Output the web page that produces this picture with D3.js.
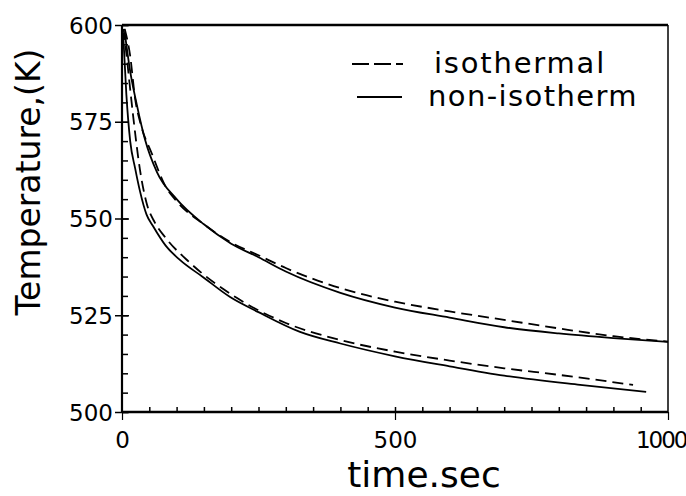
<!DOCTYPE html>
<html>
<head>
<meta charset="utf-8">
<script src="https://cdn.jsdelivr.net/npm/d3@7"></script>
<style>
  body { margin: 0; background: #fff; }
  text { font-family: "DejaVu Sans", sans-serif; fill: #000; }
</style>
</head>
<body>
<div id="grafico"></div>
<script>
const width = 686
const height = 496

// data (time in s, temperature in K)
const isoUpperTime = [5, 15, 24, 35, 54, 79, 100, 150, 200, 250, 300, 400, 500, 600, 700, 800, 900, 1000]
const isoUpperTemp = [599, 592, 581, 574, 567, 558.5, 554.5, 548.5, 543.8, 540.5, 537.2, 532, 528.5, 526, 523.8, 521.6, 519.6, 518.2]
const nonIsoUpperTime = [5, 15, 27, 42, 64, 100, 150, 200, 250, 300, 400, 500, 600, 700, 800, 900, 1000]
const nonIsoUpperTemp = [598, 588, 579.5, 570.5, 562, 555, 548.5, 543.5, 540, 536.3, 530.8, 527, 524.4, 521.9, 520.3, 519.1, 518.1]
const isoLowerTime = [3, 10, 20, 33, 45, 60, 80, 125, 210, 300, 400, 500, 600, 700, 800, 936]
const isoLowerTemp = [599, 590, 577, 562.5, 554, 549, 545, 538.5, 529.5, 523, 518.6, 515.6, 513.3, 511.3, 509.6, 507]
const nonIsoLowerTime = [2, 8, 15, 24, 33, 45, 57, 80, 106, 148, 198, 250, 326, 400, 500, 600, 700, 839, 960]
const nonIsoLowerTemp = [598, 582, 570, 563, 557, 551, 548, 543, 539.3, 534.9, 529.7, 525.8, 520.7, 517.7, 514.4, 511.8, 509.4, 507, 505.2]

const yTicks = [500, 525, 550, 575, 600]
const xTicks = [0, 500, 1000]
const legendLabels = ['isothermal', 'non-isotherm']

const series = [
  {time: isoUpperTime, temp: isoUpperTemp, dashed: true},
  {time: nonIsoUpperTime, temp: nonIsoUpperTemp, dashed: false},
  {time: isoLowerTime, temp: isoLowerTemp, dashed: true},
  {time: nonIsoLowerTime, temp: nonIsoLowerTemp, dashed: false}
]

const svg = d3.select('#grafico').append('svg')
              .attr('width', width)
              .attr('height', height)

const x = d3.scaleLinear().domain([0, 1000]).range([122, 668])
const y = d3.scaleLinear().domain([500, 600]).range([412, 25])

// minor ticks, drawn inward
const yAxis = d3.axisRight(y).tickValues(d3.range(500, 601, 5)).tickSize(6).tickFormat('')
svg.append('g').attr('transform', 'translate(122,0)').call(yAxis)
   .call(g => g.select('.domain').remove())
   .selectAll('line').attr('stroke', '#000').attr('stroke-width', 1.5)

const xAxis = d3.axisTop(x).tickValues(d3.range(50, 1000, 50)).tickSize(5).tickFormat('')
svg.append('g').attr('transform', 'translate(0,412)').call(xAxis)
   .call(g => g.select('.domain').remove())
   .selectAll('line').attr('stroke', '#000').attr('stroke-width', 1.5)

// major ticks and labels
const yMajor = d3.axisLeft(y).tickValues(yTicks).tickSize(7).tickPadding(2)
svg.append('g').attr('transform', 'translate(122,0)').call(yMajor)
   .call(g => g.select('.domain').remove())
   .call(g => g.selectAll('line').attr('stroke', '#000').attr('stroke-width', 1.5).attr('x2', -7).attr('x1', 7))
   .call(g => g.selectAll('text').attr('font-size', 23).attr('font-family', '"DejaVu Sans", sans-serif').attr('dy', '0.35em'))

const xMajor = d3.axisBottom(x).tickValues(xTicks).tickSize(8).tickPadding(12).tickFormat(d3.format('d'))
svg.append('g').attr('transform', 'translate(0,412)').call(xMajor)
   .call(g => g.select('.domain').remove())
   .call(g => g.selectAll('line').attr('stroke', '#000').attr('stroke-width', 1.2))
   .call(g => g.selectAll('text').attr('font-size', 23).attr('font-family', '"DejaVu Sans", sans-serif')
              .attr('letter-spacing', d => d === 1000 ? -2 : 0)
              .attr('text-anchor', d => d === 1000 ? 'end' : 'middle')
              .attr('x', d => d === 1000 ? 18 : 0))

// frame
svg.append('line').attr('x1', 122).attr('x2', 668).attr('y1', 25).attr('y2', 25).attr('stroke', '#000').attr('stroke-width', 2.5)
svg.append('line').attr('x1', 122).attr('x2', 668).attr('y1', 412).attr('y2', 412).attr('stroke', '#000').attr('stroke-width', 2.5)
svg.append('line').attr('x1', 122).attr('x2', 122).attr('y1', 25).attr('y2', 412).attr('stroke', '#000').attr('stroke-width', 2.2)
svg.append('line').attr('x1', 668).attr('x2', 668).attr('y1', 25).attr('y2', 412).attr('stroke', '#000').attr('stroke-width', 1.5)

const line = d3.line()
               .x(d => x(d[0]))
               .y(d => y(d[1]))
               .curve(d3.curveMonotoneX)

svg.selectAll('path.curve')
   .data(series)
   .enter()
   .append('path')
   .attr('class', 'curve')
   .attr('d', d => line(d.time.map((t, i) => [t, d.temp[i]])))
   .attr('fill', 'none')
   .attr('stroke', '#000')
   .attr('stroke-width', 1.8)
   .attr('stroke-dasharray', d => d.dashed ? '11,6' : null)

// legend
const legend = svg.append('g')
legend.append('line').attr('x1', 352).attr('x2', 403).attr('y1', 64).attr('y2', 64)
      .attr('stroke', '#000').attr('stroke-width', 1.8).attr('stroke-dasharray', '17,5')
legend.append('line').attr('x1', 357).attr('x2', 402).attr('y1', 97).attr('y2', 97)
      .attr('stroke', '#000').attr('stroke-width', 1.8)
legend.append('text').attr('x', 434).attr('y', 73).attr('font-size', 29).attr('letter-spacing', 1.8).text(legendLabels[0])
legend.append('text').attr('x', 428).attr('y', 106).attr('font-size', 29).attr('letter-spacing', 1.4).text(legendLabels[1])

// axis titles
svg.append('text').attr('x', 424).attr('y', 487).attr('text-anchor', 'middle')
   .attr('font-size', 36).text('time.sec')
svg.append('text').attr('transform', 'translate(40,182) rotate(-90)').attr('text-anchor', 'middle')
   .attr('font-size', 33).text('Temperature,(K)')
</script>
</body>
</html>
